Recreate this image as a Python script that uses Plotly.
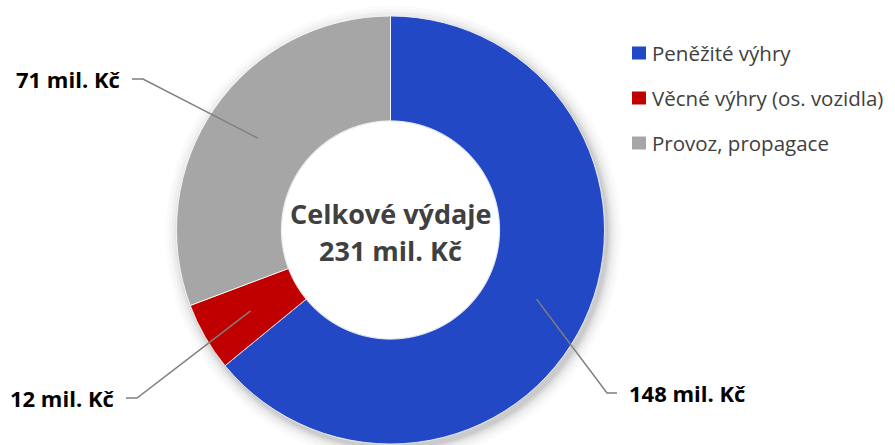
import math
import plotly.graph_objects as go

# ---- data ----
categories = ["Peněžité výhry", "Věcné výhry (os. vozidla)", "Provoz, propagace"]
values = [148, 12, 71]
value_labels = ["148 mil. Kč", "12 mil. Kč", "71 mil. Kč"]
colors = ["#2248C6", "#C00000", "#A6A6A6"]
center_title = "Celkové výdaje"
center_value = "231 mil. Kč"

# ---- layout constants (pixels) ----
W, H = 895, 445
CX, CY = 390.5, 230        # donut centre (px from left/top)
R_OUT = 214
HOLE = 0.51
R_IN = R_OUT * HOLE
R_MID = R_OUT * (1 + HOLE) / 2
FONT = "Open Sans"

def px(x):
    return x / W

def py(y):
    return 1 - y / H

fig = go.Figure()

# soft shadow behind the donut
for grow, op in [(14, 0.015), (11, 0.02), (8, 0.03), (5, 0.04), (3, 0.05), (1, 0.06)]:
    fig.add_shape(type="circle", xref="paper", yref="paper",
                  x0=px(CX - R_OUT - grow + 3), x1=px(CX + R_OUT + grow + 3),
                  y0=py(CY + R_OUT + grow + 4), y1=py(CY - R_OUT - grow + 4),
                  fillcolor=f"rgba(0,0,0,{op})", line=dict(width=0), layer="below")

fig.add_trace(go.Pie(
    labels=categories, values=values, hole=HOLE, sort=False,
    direction="clockwise", rotation=0,
    marker=dict(colors=colors, line=dict(color="white", width=0.8)),
    textinfo="none", hoverinfo="label+value", showlegend=False,
    domain=dict(x=[px(CX - R_OUT), px(CX + R_OUT)],
                y=[py(CY + R_OUT), py(CY - R_OUT)]),
))

# white hole (hide the shadow inside)
fig.add_shape(type="circle", xref="paper", yref="paper",
              x0=px(CX - R_IN + 0.5), x1=px(CX + R_IN - 0.5),
              y0=py(CY + R_IN - 0.5), y1=py(CY - R_IN + 0.5),
              fillcolor="white", line=dict(width=0), layer="above")

# leader lines & labels (anchor computed from data angles)
total = sum(values)
label_layout = [
    dict(ex=607, ey=393, hx=617, tx=627, side="left"),
    dict(ex=137, ey=398, hx=126, tx=117, side="right"),
    dict(ex=143, ey=79, hx=132, tx=123, side="right"),
]
cum = 0
for v, lab, lay in zip(values, value_labels, label_layout):
    mid = (cum + v / 2) / total * 2 * math.pi
    cum += v
    ax = CX + R_MID * math.sin(mid)
    ay = CY - R_MID * math.cos(mid)
    path = (f"M {px(ax)} {py(ay)} L {px(lay['ex'])} {py(lay['ey'])} "
            f"L {px(lay['hx'])} {py(lay['ey'])}")
    fig.add_shape(type="path", xref="paper", yref="paper", path=path,
                  line=dict(color="#7F7F7F", width=1.5))
    fig.add_annotation(xref="paper", yref="paper", x=px(lay["tx"]), y=py(lay["ey"]),
                       text=f"<b>{lab}</b>", showarrow=False,
                       xanchor=lay["side"], yanchor="middle",
                       font=dict(family=FONT, size=22, color="#000000"))

# centre text
fig.add_annotation(xref="paper", yref="paper", x=px(CX), y=py(213),
                   text=f"<b>{center_title}</b>", showarrow=False,
                   xanchor="center", yanchor="middle",
                   font=dict(family=FONT, size=27, color="#404040"))
fig.add_annotation(xref="paper", yref="paper", x=px(CX), y=py(250),
                   text=f"<b>{center_value}</b>", showarrow=False,
                   xanchor="center", yanchor="middle",
                   font=dict(family=FONT, size=27, color="#404040"))

# manual legend
leg_y = [53, 98, 143]
for cat, col, yy in zip(categories, colors, leg_y):
    fig.add_shape(type="rect", xref="paper", yref="paper",
                  x0=px(632), x1=px(646), y0=py(yy + 6.5), y1=py(yy - 6.5),
                  fillcolor=col, line=dict(width=0))
    fig.add_annotation(xref="paper", yref="paper", x=px(650), y=py(yy),
                       text=cat, showarrow=False, xanchor="left", yanchor="middle",
                       font=dict(family=FONT, size=20.5, color="#404040"))

fig.update_layout(width=W, height=H, margin=dict(l=0, r=0, t=0, b=0),
                  paper_bgcolor="white", plot_bgcolor="white")

fig.write_html("out.html")
